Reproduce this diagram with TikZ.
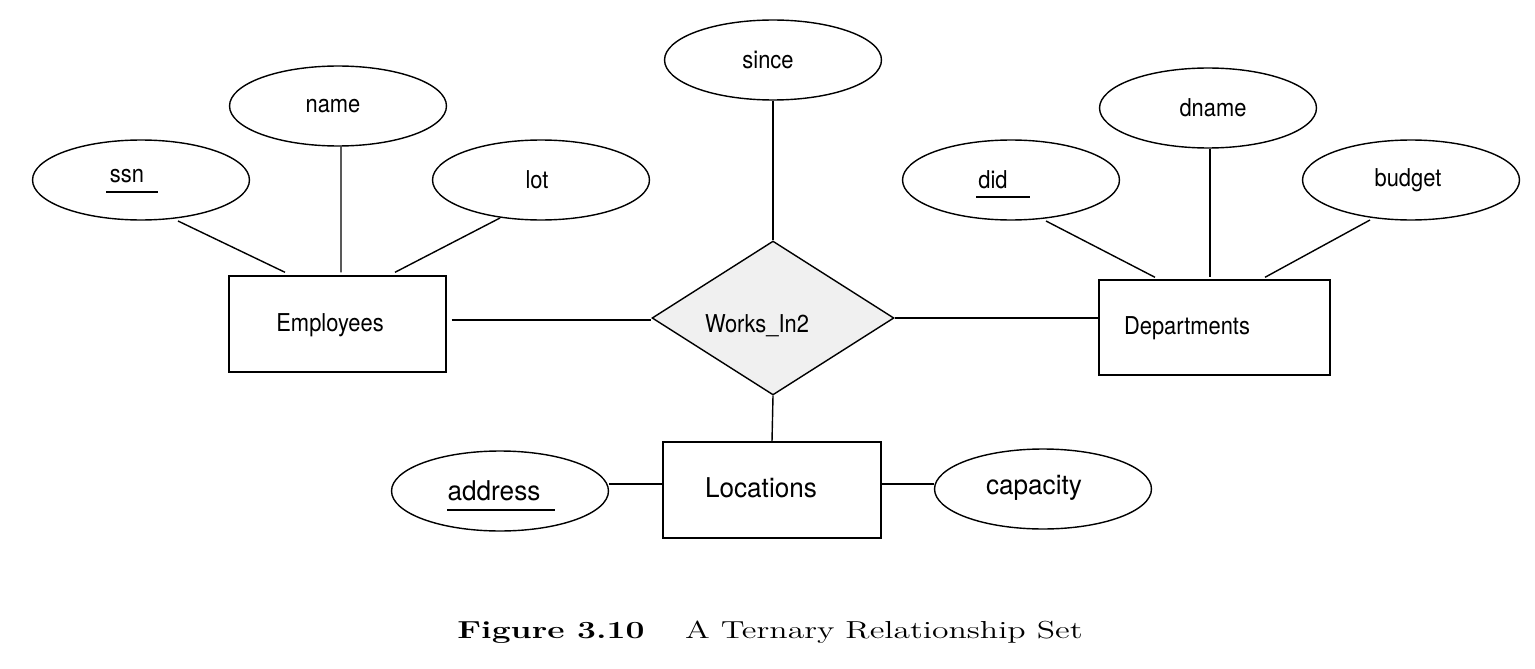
\documentclass[tikz,border=0pt]{standalone}
\usepackage{fontspec}
\usepackage{graphicx}
\newfontfamily\hv{TeX Gyre Heros}
\usetikzlibrary{shapes.geometric,calc}
\newcommand{\smlab}[1]{\scalebox{0.89}[1]{#1}}
\newcommand{\bglab}[1]{\scalebox{0.96}[1]{#1}}
\begin{document}
\begin{tikzpicture}[x=0.02cm,y=-0.02cm,line width=0.8pt,
  attr/.style={draw,ellipse,minimum width=4.34cm,minimum height=1.6cm,inner sep=0pt},
  ent/.style={draw,rectangle,inner sep=0pt},
  rel/.style={draw,diamond,fill=black!6,minimum width=4.84cm,minimum height=3.08cm,inner sep=0pt,aspect=1.57},
  lbl/.style={font=\hv\fontsize{14}{16}\selectfont,inner sep=0pt},
  biglbl/.style={font=\hv\fontsize{15.5}{18}\selectfont,inner sep=0pt}]
\useasboundingbox (0,0) rectangle (1535,669);
% attributes
\node[attr] (sinceE) at (773,60) {};
\node[attr] (nameE) at (338,106) {};
\node[attr] (ssnE) at (141,180) {};
\node[attr] (lotE) at (541,180) {};
\node[attr] (dnameE) at (1208,108) {};
\node[attr] (didE) at (1011,180) {};
\node[attr] (budgetE) at (1411,180) {};
\node[attr] (addrE) at (500,491) {};
\node[attr] (capE) at (1043,489) {};
% entities
\node[ent,minimum width=4.34cm,minimum height=1.92cm] (emp) at (337.5,324) {};
\node[ent,minimum width=4.62cm,minimum height=1.9cm] (dept) at (1214.5,327.5) {};
\node[ent,minimum width=4.36cm,minimum height=1.92cm] (loc) at (772,490) {};
% relationship
\node[rel] (wi) at (773,318) {};
% labels
\node[lbl] (sinceT) at (768,60) {\smlab{since}};
\node[lbl] (nameT) at (333,106) {\smlab{name}};
\node[lbl] (ssnT) at (127,176) {\smlab{ssn}};
\node[lbl] (lotT) at (537,180) {\smlab{lot}};
\node[lbl] (dnameT) at (1213,108) {\smlab{dname}};
\node[lbl] (didT) at (993,180) {\smlab{did}};
\node[lbl] (budgetT) at (1408,180) {\smlab{budget}};
\node[lbl] (empT) at (330,325) {\smlab{Employees}};
\node[lbl] (deptT) at (1187,328) {\smlab{Departments}};
\node[lbl] (wiT) at (757,326) {\smlab{Works\_In2}};
\node[biglbl] (locT) at (761,488) {\bglab{Locations}};
\node[biglbl] (addrT) at (494,491) {\bglab{address}};
\node[biglbl] (capT) at (1034,488) {\bglab{capacity}};
% underlines
\draw ($(ssnE)+(-35,12)$) -- ++(52,0);
\draw ($(didE)+(-35,17)$) -- ++(54,0);
\draw ($(addrE)+(-53,19)$) -- ++(108,0);
% connectors
\draw ($(ssnE)+(37,41)$) -- ($(emp.north)+(-52.5,-3)$);
\draw ($(nameE.south)+(3,0)$) -- ($(emp.north)+(3.5,-3)$);
\draw ($(lotE)+(-41,38)$) -- ($(emp.north)+(57.5,-3)$);
\draw ($(didE)+(35,41)$) -- ($(dept.north)+(-59.5,-2)$);
\draw ($(dnameE.south)+(2,0)$) -- ($(dept.north)+(-4.5,-2)$);
\draw ($(budgetE)+(-41,40)$) -- ($(dept.north)+(50.5,-2)$);
\draw (sinceE.south) -- (wi.north);
\draw ($(emp.east)+(5,-4)$) -- ($(wi.west)+(0,2)$);
\draw (wi.east) -- ($(dept.west)+(0,-9.5)$);
\draw (wi.south) -- (loc.north);
\draw ($(addrE.east)+(0,-7)$) -- ($(loc.west)+(0,-6)$);
\draw ($(loc.east)+(0,-6)$) -- ($(capE.west)+(0,-5)$);
% caption
\node[font=\fontsize{14}{17}\selectfont,inner sep=0pt] (cap) at (770,632) {\scalebox{1.37}[1]{\textbf{Figure 3.10}\hspace{1.2em}A Ternary Relationship Set}};
\end{tikzpicture}
\end{document}
